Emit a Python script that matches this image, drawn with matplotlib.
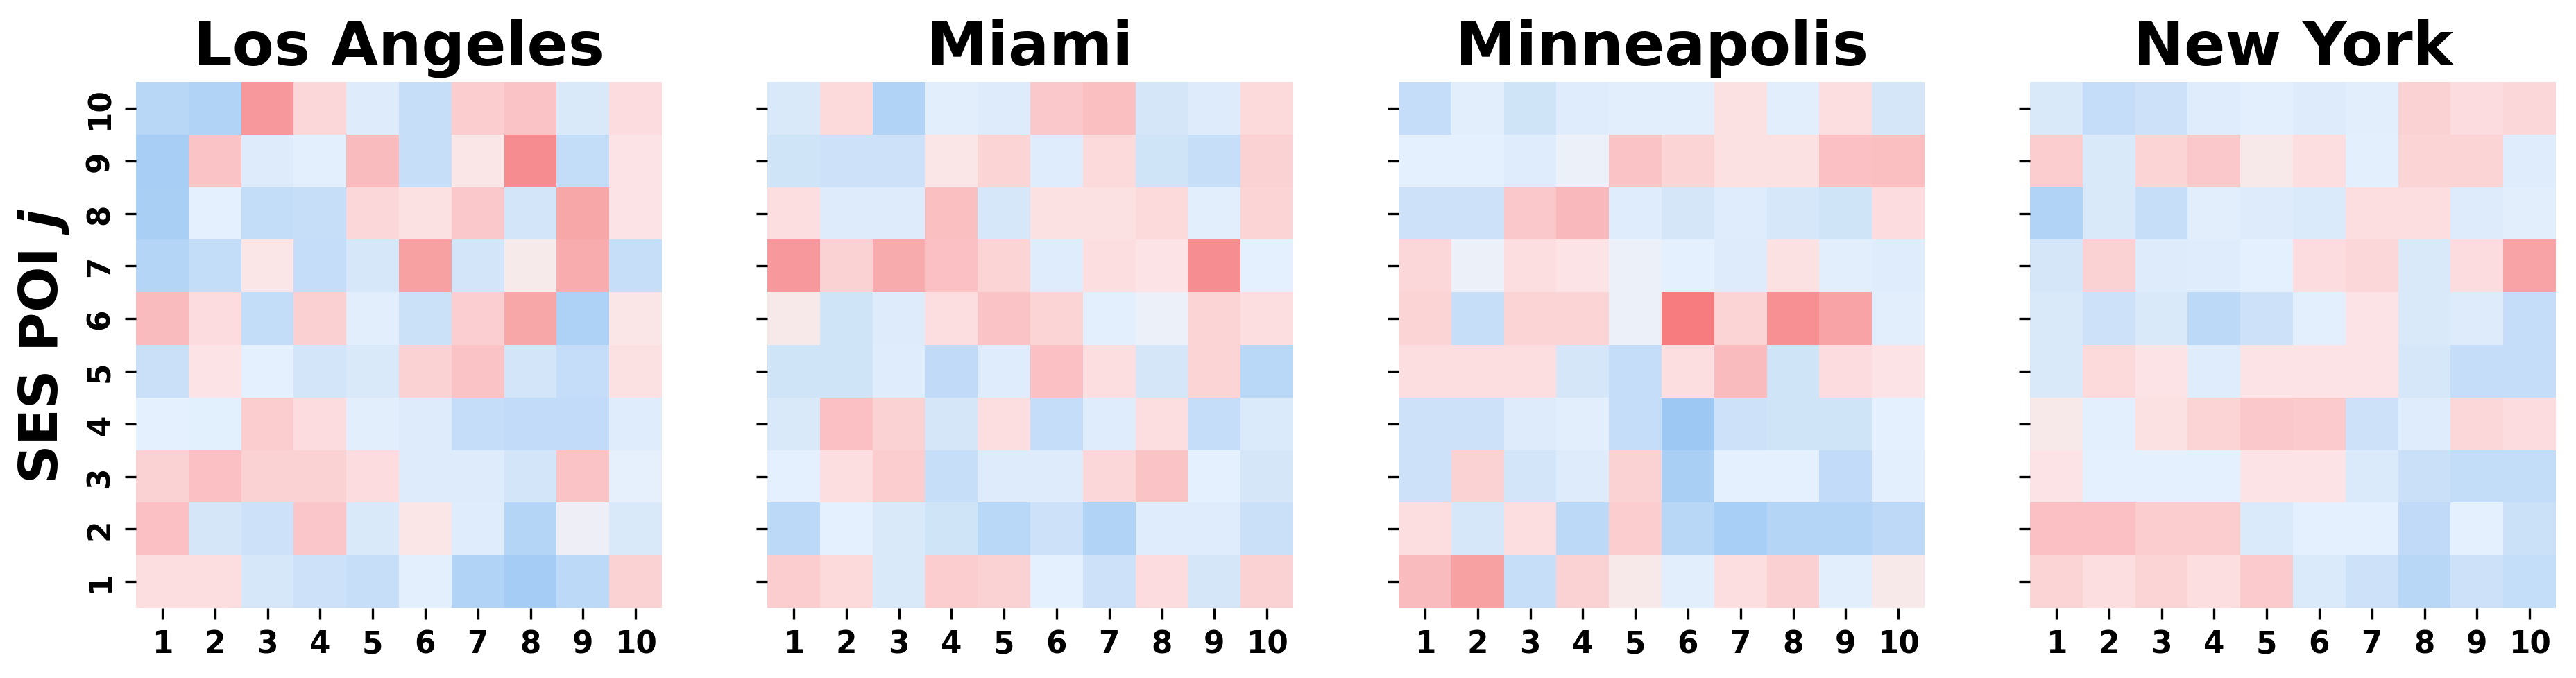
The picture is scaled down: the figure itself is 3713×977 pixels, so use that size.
import numpy as np
import matplotlib
matplotlib.use('Agg')
import matplotlib.pyplot as plt
from matplotlib.colors import LinearSegmentedColormap
import seaborn as sns

# 城市与坐标轴标签
cities = ['Los Angeles', 'Miami', 'Minneapolis', 'New York']
x_labels = [str(i) for i in range(1, 11)]
y_labels = [str(i) for i in range(10, 0, -1)]  # 从上到下 10 -> 1

# 每行从 j=10 (顶部) 到 j=1 (底部)
la = [
    [-0.60, -0.65, 0.75, 0.25, -0.20, -0.45, 0.35, 0.45, -0.25, 0.20],
    [-0.75, 0.45, -0.20, -0.12, 0.50, -0.45, 0.10, 0.85, -0.50, 0.12],
    [-0.72, -0.10, -0.50, -0.45, 0.25, 0.15, 0.40, -0.32, 0.65, 0.13],
    [-0.62, -0.50, 0.10, -0.47, -0.28, 0.70, -0.32, 0.04, 0.62, -0.45],
    [0.50, 0.20, -0.50, 0.32, -0.14, -0.40, 0.33, 0.65, -0.68, 0.10],
    [-0.42, 0.12, -0.10, -0.33, -0.25, 0.30, 0.45, -0.33, -0.47, 0.15],
    [-0.10, -0.13, 0.35, 0.20, -0.14, -0.20, -0.47, -0.52, -0.52, -0.18],
    [0.30, 0.47, 0.30, 0.30, 0.20, -0.20, -0.20, -0.32, 0.45, -0.08],
    [0.47, -0.30, -0.38, 0.42, -0.25, 0.10, -0.18, -0.62, -0.03, -0.25],
    [0.18, 0.18, -0.28, -0.38, -0.45, -0.12, -0.65, -0.78, -0.56, 0.30],
]
miami = [
    [-0.25, 0.22, -0.65, -0.14, -0.20, 0.40, 0.48, -0.30, -0.20, 0.22],
    [-0.35, -0.38, -0.38, 0.10, 0.28, -0.18, 0.22, -0.35, -0.45, 0.30],
    [0.18, -0.20, -0.20, 0.48, -0.28, 0.15, 0.15, 0.22, -0.14, 0.28],
    [0.75, 0.30, 0.63, 0.47, 0.28, -0.18, 0.18, 0.12, 0.83, -0.10],
    [0.05, -0.35, -0.20, 0.18, 0.45, 0.28, -0.12, -0.04, 0.28, 0.18],
    [-0.35, -0.35, -0.18, -0.53, -0.18, 0.47, 0.18, -0.30, 0.28, -0.58],
    [-0.25, 0.47, 0.30, -0.30, 0.18, -0.47, -0.18, 0.18, -0.47, -0.23],
    [-0.10, 0.18, 0.35, -0.45, -0.20, -0.20, 0.25, 0.45, -0.10, -0.30],
    [-0.56, -0.10, -0.25, -0.35, -0.58, -0.38, -0.65, -0.18, -0.18, -0.42],
    [0.35, 0.22, -0.25, 0.35, 0.30, -0.10, -0.38, 0.20, -0.30, 0.30],
]
minneapolis = [
    [-0.47, -0.14, -0.35, -0.18, -0.14, -0.14, 0.15, -0.14, 0.18, -0.30],
    [-0.10, -0.10, -0.18, -0.04, 0.45, 0.28, 0.15, 0.15, 0.47, 0.48],
    [-0.38, -0.38, 0.40, 0.52, -0.18, -0.30, -0.18, -0.28, -0.35, 0.20],
    [0.25, -0.04, 0.18, 0.12, -0.05, -0.10, -0.20, 0.15, -0.14, -0.18],
    [0.28, -0.45, 0.28, 0.28, -0.04, 1.00, 0.28, 0.82, 0.68, -0.14],
    [0.18, 0.18, 0.18, -0.30, -0.47, 0.18, 0.50, -0.35, 0.20, 0.12],
    [-0.38, -0.38, -0.20, -0.14, -0.47, -0.85, -0.38, -0.35, -0.35, -0.10],
    [-0.38, 0.30, -0.32, -0.20, 0.30, -0.72, -0.10, -0.10, -0.52, -0.12],
    [0.18, -0.28, 0.18, -0.56, 0.35, -0.60, -0.74, -0.63, -0.63, -0.55],
    [0.50, 0.70, -0.45, 0.30, 0.05, -0.14, 0.18, 0.32, -0.14, 0.05],
]
new_york = [
    [-0.25, -0.47, -0.38, -0.18, -0.12, -0.20, -0.14, 0.30, 0.20, 0.25],
    [0.35, -0.25, 0.28, 0.40, 0.05, 0.18, -0.12, 0.28, 0.28, -0.18],
    [-0.65, -0.25, -0.45, -0.14, -0.20, -0.23, 0.18, 0.18, -0.20, -0.14],
    [-0.30, 0.30, -0.20, -0.18, -0.10, 0.20, 0.25, -0.25, 0.20, 0.68],
    [-0.25, -0.38, -0.25, -0.56, -0.38, -0.12, 0.12, -0.25, -0.20, -0.47],
    [-0.25, 0.22, 0.12, -0.18, 0.12, 0.12, 0.12, -0.28, -0.47, -0.47],
    [0.05, -0.12, 0.15, 0.28, 0.40, 0.38, -0.38, -0.18, 0.25, 0.20],
    [0.12, -0.10, -0.10, -0.10, 0.12, 0.12, -0.23, -0.42, -0.50, -0.50],
    [0.47, 0.47, 0.35, 0.35, -0.23, -0.10, -0.10, -0.53, -0.10, -0.40],
    [0.28, 0.18, 0.28, 0.18, 0.38, -0.23, -0.38, -0.60, -0.38, -0.48],
]
matrices = [la, miami, minneapolis, new_york]

# 蓝-白-红 发散色带
anchors = [
    (-1.00, (145, 193, 242)),
    (-0.85, (157, 200, 243)),
    (-0.65, (178, 212, 246)),
    (-0.50, (195, 220, 248)),
    (-0.38, (205, 226, 248)),
    (-0.25, (218, 233, 250)),
    (-0.10, (228, 240, 253)),
    (-0.04, (236, 240, 248)),
    (0.04, (246, 234, 235)),
    (0.12, (252, 228, 230)),
    (0.20, (252, 220, 222)),
    (0.30, (251, 210, 212)),
    (0.45, (250, 195, 198)),
    (0.65, (248, 168, 170)),
    (0.85, (246, 140, 143)),
    (1.00, (246, 124, 128)),
]
cmap = LinearSegmentedColormap.from_list(
    'ses', [((v + 1) / 2, np.array(c) / 255.0) for v, c in anchors])

plt.rcParams['font.family'] = ['DejaVu Sans']
plt.rcParams['font.weight'] = 'bold'
plt.rcParams['mathtext.fontset'] = 'custom'
plt.rcParams['mathtext.it'] = 'DejaVu Sans:italic:bold'
plt.rcParams['mathtext.rm'] = 'DejaVu Sans:bold'

W, H = 3713, 978
fig = plt.figure(figsize=(W / 300, H / 300), dpi=300)

left0, step, size = 196, 910, 758
bottom = (H - 877) / H

for k, (city, mat) in enumerate(zip(cities, matrices)):
    ax = fig.add_axes([(left0 + k * step) / W, bottom, size / W, size / H])
    sns.heatmap(np.array(mat), cmap=cmap, vmin=-1, vmax=1, cbar=False, ax=ax,
                xticklabels=x_labels, yticklabels=y_labels)
    ax.set_title(city, fontsize=21, fontweight='bold', pad=6)
    ax.tick_params(axis='both', labelsize=10.5, length=3.8, width=0.8)
    plt.setp(ax.get_xticklabels(), rotation=0, fontweight='bold')
    if k == 0:
        plt.setp(ax.get_yticklabels(), rotation=90, va='center', fontweight='bold')
        ax.set_ylabel('SES POI $j$', fontsize=18.5, fontweight='bold', labelpad=5)
    else:
        ax.tick_params(axis='y', labelleft=False)

fig.savefig('out.png', dpi=300)
plt.close(fig)
